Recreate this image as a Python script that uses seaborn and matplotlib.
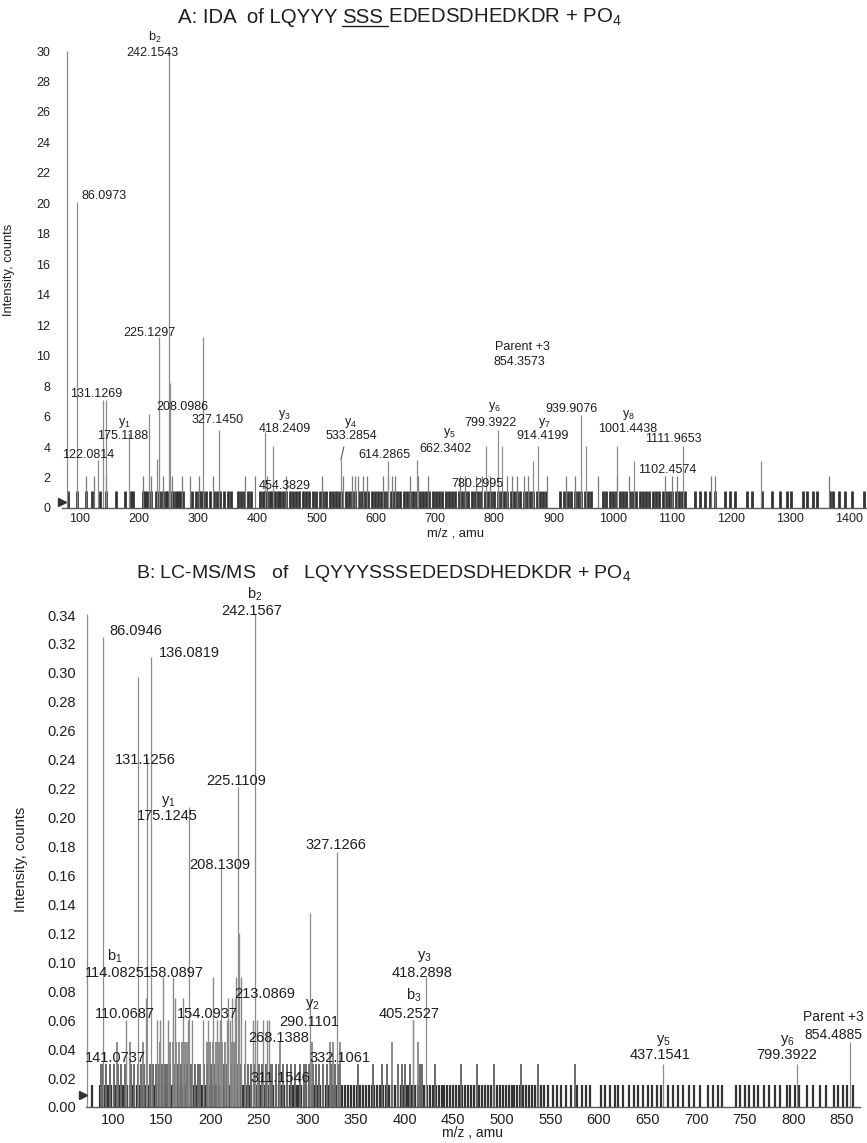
# MS/MS spectra of LQYYYSSSEDEDSDHEDKDR + PO4 (IDA vs LC-MS/MS)
import matplotlib
matplotlib.use('Agg')
import matplotlib.pyplot as plt
import seaborn as sns

sns.set_style('white')
plt.rcParams['font.family'] = ['Liberation Sans', 'DejaVu Sans']
plt.rcParams['mathtext.fontset'] = 'custom'
plt.rcParams['mathtext.rm'] = 'Liberation Sans'
plt.rcParams['mathtext.it'] = 'Liberation Sans'
plt.rcParams['mathtext.default'] = 'regular'

# ----------------------------
# Panel A data (IDA)
# ----------------------------
peak_mz_a = [78, 95, 130, 139, 144, 183, 217, 231, 234, 250, 252, 308, 335, 413, 426,
             541, 620, 669, 787, 806, 813, 865, 874, 946, 955, 1007, 1036, 1119, 1250]
peak_int_a = [30, 20.1, 3.15, 7.1, 7.1, 4.9, 6.2, 3.2, 11.2, 30, 8.2, 11.2, 5.1, 5.0, 4.1,
              3.15, 3.1, 3.15, 4.1, 5.1, 4.1, 3.1, 4.1, 6.1, 4.1, 4.1, 3.1, 4.1, 3.1]

mid_mz_a = [110, 124, 144, 207, 221, 241, 255, 272, 286, 301, 325, 379, 396, 416, 448,
            509, 545, 559, 565, 570, 578, 585, 612, 620, 627, 632, 657, 671, 688, 742,
            750, 770, 779, 793, 821, 830, 838, 851, 857, 889, 922, 936, 975, 1007, 1027,
            1088, 1101, 1108, 1167, 1173, 1365]
mid_int_a = 2.1

base_mz_a = [80, 95, 110, 120, 134, 145, 162, 176, 186, 190, 207, 210, 213, 221,
             228, 232, 236, 241, 245, 248, 252, 257, 262, 266, 270, 275, 290, 296, 301,
             305, 309, 314, 320, 326, 331, 337, 343, 350, 356, 367, 372, 378, 384, 389,
             405, 409, 413, 417, 421, 425, 430, 434, 439, 444, 449, 455, 460, 466, 471,
             477, 482, 488, 494, 499, 505, 511, 516, 522, 527, 533, 538, 543, 549, 554,
             560, 565, 571, 576, 582, 587, 593, 598, 604, 609, 614, 619, 625, 630, 636,
             641, 647, 652, 657, 663, 668, 674, 679, 685, 690, 696, 701, 707, 712, 718,
             723, 729, 734, 740, 745, 751, 756, 762, 767, 773, 778, 784, 789, 795, 800,
             806, 811, 817, 822, 828, 833, 839, 844, 850, 855, 861, 866, 872, 877, 883,
             888, 911, 918, 924, 930, 936, 942, 947, 953, 958, 964, 983, 989, 995, 1001,
             1006, 1012, 1018, 1023, 1029, 1034, 1040, 1046, 1051, 1057, 1062, 1068, 1073,
             1079, 1085, 1090, 1096, 1101, 1107, 1112, 1118, 1123,
             1139, 1147, 1156, 1164, 1173, 1189, 1198, 1206, 1227, 1235, 1252, 1269, 1282,
             1294, 1302, 1321, 1329, 1338, 1346, 1367, 1372, 1383, 1392, 1404, 1424]
base_int_a = 1.1

# annotation text, m/z, intensity
labels_a = [("b$_2$", 227, 30.9), ("242.1543", 222, 29.9), ("86.0973", 141, 20.5),
            ("225.1297", 218, 11.5), ("131.1269", 127, 7.5), ("208.0986", 274, 6.6),
            ("327.1450", 333, 5.8), ("y$_1$", 176, 5.6), ("175.1188", 173, 4.7),
            ("122.0814", 115, 3.5), ("y$_3$", 446, 6.1), ("418.2409", 446, 5.2),
            ("y$_4$", 558, 5.6), ("533.2854", 558, 4.7), ("614.2865", 615, 3.5),
            ("454.3829", 446, 1.45), ("y$_5$", 725, 4.9), ("662.3402", 718, 3.9),
            ("y$_6$", 801, 6.6), ("799.3922", 794, 5.6), ("y$_7$", 884, 5.6),
            ("914.4199", 882, 4.7), ("939.9076", 931, 6.5), ("y$_8$", 1026, 6.1),
            ("1001.4438", 1026, 5.2), ("1111.9653", 1102, 4.5), ("1102.4574", 1093, 2.5),
            ("780.2995", 771, 1.6), ("Parent +3", 847, 10.6), ("854.3573", 843, 9.6)]

# ----------------------------
# Panel B data (LC-MS/MS)
# ----------------------------
peak_mz_b = [73, 90, 126, 135, 139, 178, 211, 229, 230, 246, 303, 330, 409, 422, 666, 804, 858]
peak_int_b = [0.341, 0.325, 0.297, 0.241, 0.311, 0.207, 0.165, 0.221, 0.12, 0.341,
              0.134, 0.176, 0.06, 0.09, 0.03, 0.03, 0.045]

lvl090_mz_b = [151, 162, 203, 227, 232]
lvl075_mz_b = [134, 164, 172, 218, 222, 226]
lvl060_mz_b = [113, 145, 148, 157, 177, 181, 193, 198, 207, 210, 217, 220, 236, 244,
               248, 254, 258, 260, 409]
lvl045_mz_b = [104, 117, 131, 148, 159, 162, 165, 168, 171, 174, 176, 197, 200, 203,
               206, 209, 212, 215, 218, 221, 224, 227, 230, 272, 305, 323, 326, 334, 387, 414]
lvl030_mz_b = [88, 90, 93, 97, 101, 105, 108, 112, 119, 122, 126, 129, 132, 135, 138,
               141, 144, 147, 150, 153, 156, 159, 163, 167, 170, 173, 176, 180, 184, 187,
               190, 194, 197, 201, 204, 208, 211, 214, 217, 221, 225, 228, 232, 236, 239,
               242, 246, 250, 253, 257, 261, 264, 268, 271, 275, 279, 283, 287, 292, 296,
               299, 302, 306, 309, 312, 316, 320, 324, 328, 331, 334, 352, 367, 377, 382,
               393, 397, 400, 406, 416, 418, 431, 458, 474, 492, 520, 537, 575]
base_mz_b = [68, 78, 87, 89, 92, 95, 98, 101, 103, 106, 109, 111, 114, 117, 120, 122,
             125, 128, 131, 133, 136, 139, 142, 145, 147, 150, 153, 156, 158, 161, 164,
             167, 170, 172, 175, 178, 181, 183, 186, 189, 192, 195, 197, 200, 203, 206,
             209, 211, 214, 217, 220, 222, 225, 228, 231, 234, 237, 240, 242, 245, 248,
             251, 254, 256, 259, 262, 265, 268, 271, 273, 276, 279, 282, 285, 288, 290,
             293, 296, 299, 302, 305, 307, 310, 313, 316, 319, 322, 325, 327, 330, 333,
             336, 339, 342, 345, 348, 351, 354, 357, 360, 363, 366, 369, 372, 375, 378,
             381, 384, 387, 390, 393, 396, 399, 402, 405, 408, 411, 414, 417, 420, 423,
             426, 429, 432, 435, 438, 441, 444, 447, 450, 453, 456, 459, 462, 465, 468,
             471, 474, 477, 480, 483, 486, 489, 492, 495, 498, 501, 504, 507, 510, 513,
             516, 519, 522, 525, 528, 531, 534, 537, 540, 543,
             548, 553, 557, 561, 566, 571, 577, 582, 587, 591, 602, 606, 611, 616, 620,
             625, 631, 636, 640, 645, 650, 655, 660, 664, 671, 676, 681, 686, 693, 698,
             704, 712, 717, 722, 727, 741, 745, 750, 754, 759, 764, 770, 775, 781, 786,
             793, 797, 802, 806, 814, 820, 827, 834, 842, 846, 851, 855, 861]

labels_b = [("b$_2$", 246, 0.354), ("242.1567", 243, 0.343), ("86.0946", 123, 0.329),
            ("136.0819", 179, 0.314), ("131.1256", 133, 0.240), ("225.1109", 227, 0.225),
            ("y$_1$", 157, 0.211), ("175.1245", 156, 0.201), ("327.1266", 329, 0.181),
            ("208.1309", 210, 0.167), ("b$_1$", 102, 0.104), ("114.0825", 102, 0.0926),
            ("158.0897", 162, 0.0926), ("213.0869", 256, 0.078), ("y$_2$", 305, 0.071),
            ("290.1101", 302, 0.059), ("110.0687", 112, 0.064), ("154.0937", 197, 0.064),
            ("268.1388", 270, 0.048), ("141.0737", 102, 0.034), ("332.1061", 334, 0.034),
            ("311.1546", 272, 0.020), ("y$_3$", 420, 0.104), ("418.2898", 418, 0.0926),
            ("b$_3$", 409, 0.077), ("405.2527", 405, 0.064), ("y$_5$", 666, 0.046),
            ("437.1541", 663, 0.036), ("y$_6$", 794, 0.046), ("799.3922", 793, 0.036)]
parent_b = [("Parent +3", 810, 0.062), ("854.4885", 811, 0.050)]

TXT = '#1e1e1e'
PEAK = '#8c8c8c'
DARK = '#333333'


def stems(ax, mz, h, color, lw):
    ax.vlines(mz, 0, h, colors=color, linewidth=lw)


def style_axes(ax, size, xpad, ypad):
    sns.despine(ax=ax, left=True)
    ax.spines['bottom'].set_color('#5a5a5a')
    ax.spines['bottom'].set_linewidth(1.0)
    ax.tick_params(length=0, labelsize=size, colors=TXT)
    ax.tick_params(axis='x', pad=xpad)
    ax.tick_params(axis='y', pad=ypad)


def title_parts(fig, parts, cx, y, size, underline=None):
    r = fig.canvas.get_renderer()
    W = fig.bbox.width
    widths = []
    for s in parts:
        t = fig.text(0, 0, s, fontsize=size)
        widths.append(t.get_window_extent(r).width)
        t.remove()
    x = cx - sum(widths) / 2
    starts = []
    for s, w in zip(parts, widths):
        starts.append(x)
        fig.text(x / W, y, s, fontsize=size, color=TXT, va='baseline')
        x += w
    if underline is not None:
        i = underline
        x0 = starts[i] / W
        x1 = (starts[i] + widths[i] + 0.25 * size * 100 / 72) / W
        yl = y - 3.0 / fig.bbox.height
        fig.add_artist(plt.Line2D([x0, x1], [yl, yl], color=TXT, lw=1.0))


fig = plt.figure(figsize=(8.67, 11.43), dpi=100)
axA = fig.add_axes([62 / 867, 1 - 508 / 1143, 804 / 867, 464.6 / 1143])
axB = fig.add_axes([85.8 / 867, 36 / 1143, 773.7 / 867, 499.2 / 1143])

# ---- Panel A ----
stems(axA, base_mz_a, base_int_a, DARK, 2.0)
stems(axA, mid_mz_a, mid_int_a, '#7a7a7a', 0.9)
stems(axA, peak_mz_a, peak_int_a, PEAK, 0.9)
axA.plot([546, 541], [4.0, 3.15], color='#555555', lw=0.8)
for s, x, y in labels_a:
    axA.text(x, y, s, ha='center', va='center', fontsize=9, color=TXT)
axA.plot([70], [0.4], marker='>', color='#333333', markersize=6, clip_on=False)
axA.set_xlim(70, 1428)
axA.set_ylim(0, 30.5)
axA.set_xticks(range(100, 1401, 100))
axA.set_yticks(range(0, 31, 2))
style_axes(axA, 9, 3.5, 8.5)
axA.set_xlabel('m/z , amu', fontsize=9.4, color=TXT)
axA.xaxis.set_label_coords(0.49, -0.041)
axA.set_ylabel('Intensity, counts', fontsize=9.3, color=TXT)
axA.yaxis.set_label_coords(-0.058, 0.512)

# ---- Panel B ----
stems(axB, base_mz_b, 0.015, DARK, 1.6)
stems(axB, lvl030_mz_b, 0.03, '#6a6a6a', 1.4)
stems(axB, lvl045_mz_b, 0.045, '#7a7a7a', 1.2)
stems(axB, lvl060_mz_b, 0.06, '#8a8a8a', 1.0)
stems(axB, lvl075_mz_b, 0.075, '#8a8a8a', 1.0)
stems(axB, lvl090_mz_b, 0.09, '#8a8a8a', 1.0)
stems(axB, peak_mz_b, peak_int_b, PEAK, 0.9)
for s, x, y in labels_b:
    axB.text(x, y, s, ha='center', va='center', fontsize=10.5, color=TXT)
for s, x, y in parent_b:
    axB.text(x, y, s, ha='left', va='center', fontsize=10, color=TXT, clip_on=False)
axB.plot([69], [0.0083], marker='>', color='#333333', markersize=6, clip_on=False)
axB.set_xlim(72, 868)
axB.set_ylim(0, 0.345)
axB.set_xticks(range(100, 851, 50))
axB.set_yticks([i / 100 for i in range(0, 35, 2)])
axB.set_yticklabels([f'{i / 100:.2f}' for i in range(0, 35, 2)])
style_axes(axB, 10.5, 4, 7)
axB.set_xlabel('m/z , amu', fontsize=10, color=TXT)
axB.xaxis.set_label_coords(0.5, -0.039)
axB.set_ylabel('Intensity, counts', fontsize=10.5, color=TXT)
axB.yaxis.set_label_coords(-0.075, 0.497)

# ---- titles ----
title_parts(fig, ['A: IDA  of LQYYY ', 'SSS', ' EDEDSDHEDKDR + PO$_4$'],
            400, 1 - 23 / 1143, 14.7, underline=1)
title_parts(fig, ['B: LC-MS/MS   of   LQYYYSSSEDEDSDHEDKDR + PO$_4$'],
            384, 1 - 578 / 1143, 14)

fig.savefig('out.png', dpi=100)
